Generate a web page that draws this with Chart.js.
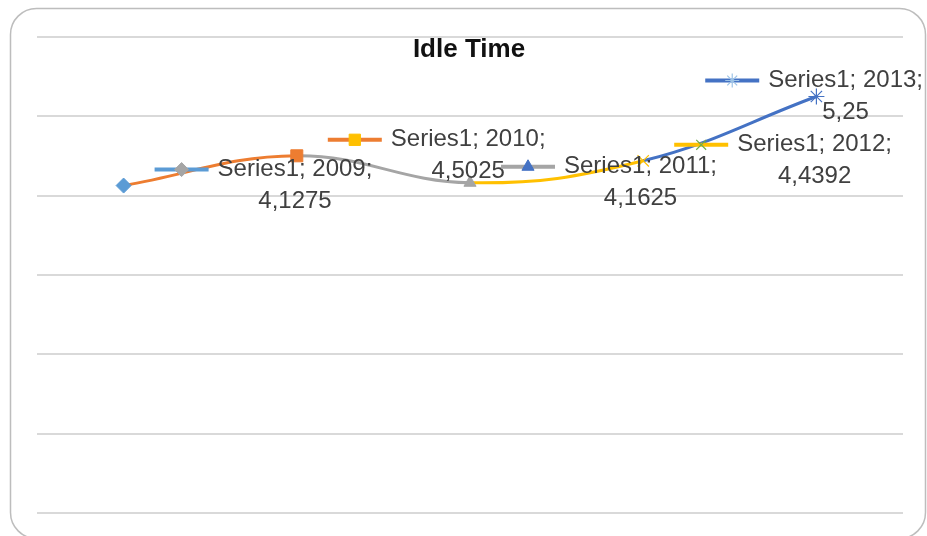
<!DOCTYPE html>
<html>
<head>
<meta charset="utf-8">
<title>Idle Time</title>
<script src="https://cdn.jsdelivr.net/npm/chart.js@4/dist/chart.umd.min.js"></script>
<style>
  html, body { margin: 0; padding: 0; background: #ffffff; }
  #wrap { width: 927px; height: 536px; }
</style>
</head>
<body>
<div id="wrap"><canvas id="chart" width="927" height="536"></canvas></div>
<script>
// Chart content
const chartTitle = 'Idle Time';
const seriesName = 'Series1';
const years = ['2009', '2010', '2011', '2012', '2013'];
const idleTime = [4.1275, 4.5025, 4.1625, 4.4392, 5.25];
const yTicks = [0, 1, 2, 3, 4, 5, 6];

// Per-point styling (colours vary by point)
const pointColors = ['#5B9BD5', '#ED7D31', '#A5A5A5', '#FFC000', '#4472C4'];
const pointStyles = ['rectRot', 'rect', 'triangle', 'crossRot', 'star'];
const keyLineColors = ['#5B9BD5', '#ED7D31', '#A5A5A5', '#FFC000', '#4472C4'];
const keyMarkerColors = ['#A5A5A5', '#FFC000', '#4472C4', '#70AD47', '#9DC3E6'];
const keyMarkerStyles = ['rectRot', 'rect', 'triangle', 'crossRot', 'star'];

const LABEL_FONT = '24px "Liberation Sans", Arial, sans-serif';
const TITLE_FONT = 'bold 26px "Liberation Sans", Arial, sans-serif';

function formatValue(v) {
  return String(v).replace('.', ',');
}

function markerOptions(style, color) {
  const stroked = style === 'crossRot' || style === 'star';
  return {
    pointStyle: style,
    radius: stroked ? 7 : (style === 'rect' ? 8 : 7),
    borderWidth: stroked ? 1.2 : 1,
    rotation: 0,
    fill: color,
    stroke: color
  };
}

// Frame with rounded corners behind everything
const framePlugin = {
  id: 'frame',
  beforeDraw(chart) {
    const ctx = chart.ctx;
    ctx.save();
    ctx.fillStyle = '#ffffff';
    ctx.fillRect(0, 0, chart.width, chart.height);
    ctx.beginPath();
    ctx.roundRect(10.5, 8.5, 915, 530, 26);
    ctx.strokeStyle = '#BDBDBD';
    ctx.lineWidth = 1.5;
    ctx.stroke();
    ctx.restore();
  }
};

// Data labels: legend key + "Series; category; value" text next to each point
const labelPlugin = {
  id: 'pointLabels',
  afterDatasetsDraw(chart) {
    const ctx = chart.ctx;
    const meta = chart.getDatasetMeta(0);
    ctx.save();
    // title
    ctx.font = TITLE_FONT;
    ctx.fillStyle = '#111111';
    ctx.textAlign = 'center';
    ctx.textBaseline = 'alphabetic';
    ctx.fillText(chartTitle, 469, 57);

    ctx.font = LABEL_FONT;
    meta.data.forEach((pt, i) => {
      const line1 = seriesName + '; ' + years[i] + ';';
      const line2 = formatValue(idleTime[i]);
      const textW = ctx.measureText(line1).width;
      const keyW = 54, gap = 9;
      const blockW = keyW + gap + textW;
      let left = pt.x + 31;
      const limit = chart.width - 4;
      if (left + blockW > limit) left = limit - blockW;
      const y = pt.y - 16;

      // key line
      ctx.beginPath();
      ctx.moveTo(left, y);
      ctx.lineTo(left + keyW, y);
      ctx.strokeStyle = keyLineColors[i];
      ctx.lineWidth = 4;
      ctx.stroke();
      // key marker
      const m = markerOptions(keyMarkerStyles[i], keyMarkerColors[i]);
      ctx.fillStyle = m.fill;
      ctx.strokeStyle = m.stroke;
      ctx.lineWidth = m.borderWidth;
      Chart.helpers.drawPoint(ctx, m, left + keyW / 2, y);

      // text
      const tx = left + keyW + gap;
      ctx.fillStyle = '#404040';
      ctx.textBaseline = 'middle';
      ctx.textAlign = 'left';
      ctx.fillText(line1, tx, y);
      ctx.textAlign = 'center';
      ctx.fillText(line2, tx + textW / 2, y + 32);
    });
    ctx.restore();
  }
};

new Chart(document.getElementById('chart'), {
  type: 'line',
  data: {
    labels: years,
    datasets: [{
      label: seriesName,
      data: idleTime,
      borderWidth: 3,
      tension: 0.4,
      segment: {
        borderColor: c => pointColors[c.p1DataIndex]
      },
      borderColor: pointColors[1],
      pointStyle: pointStyles,
      pointBackgroundColor: pointColors,
      pointBorderColor: pointColors,
      pointRadius: [7.5, 8.5, 7, 8, 8],
      pointBorderWidth: [1, 1, 1, 1.2, 1.2],
      pointHoverRadius: 0
    }]
  },
  options: {
    responsive: false,
    devicePixelRatio: 1,
    animation: false,
    events: [],
    layout: { padding: { left: 37, right: 24, top: 37, bottom: 23 } },
    scales: {
      x: {
        type: 'category',
        offset: true,
        grid: { display: false },
        ticks: { display: false },
        border: { display: false },
        afterFit: s => { s.height = 0; }
      },
      y: {
        min: yTicks[0],
        max: yTicks[yTicks.length - 1],
        afterBuildTicks: s => { s.ticks = yTicks.map(v => ({ value: v })); },
        ticks: { display: false, stepSize: 1 },
        grid: { color: '#D9D9D9', lineWidth: 2, drawTicks: false },
        border: { display: false },
        afterFit: s => { s.width = 0; }
      }
    },
    plugins: {
      legend: { display: false },
      title: { display: false },
      tooltip: { enabled: false }
    }
  },
  plugins: [framePlugin, labelPlugin]
});
</script>
</body>
</html>
